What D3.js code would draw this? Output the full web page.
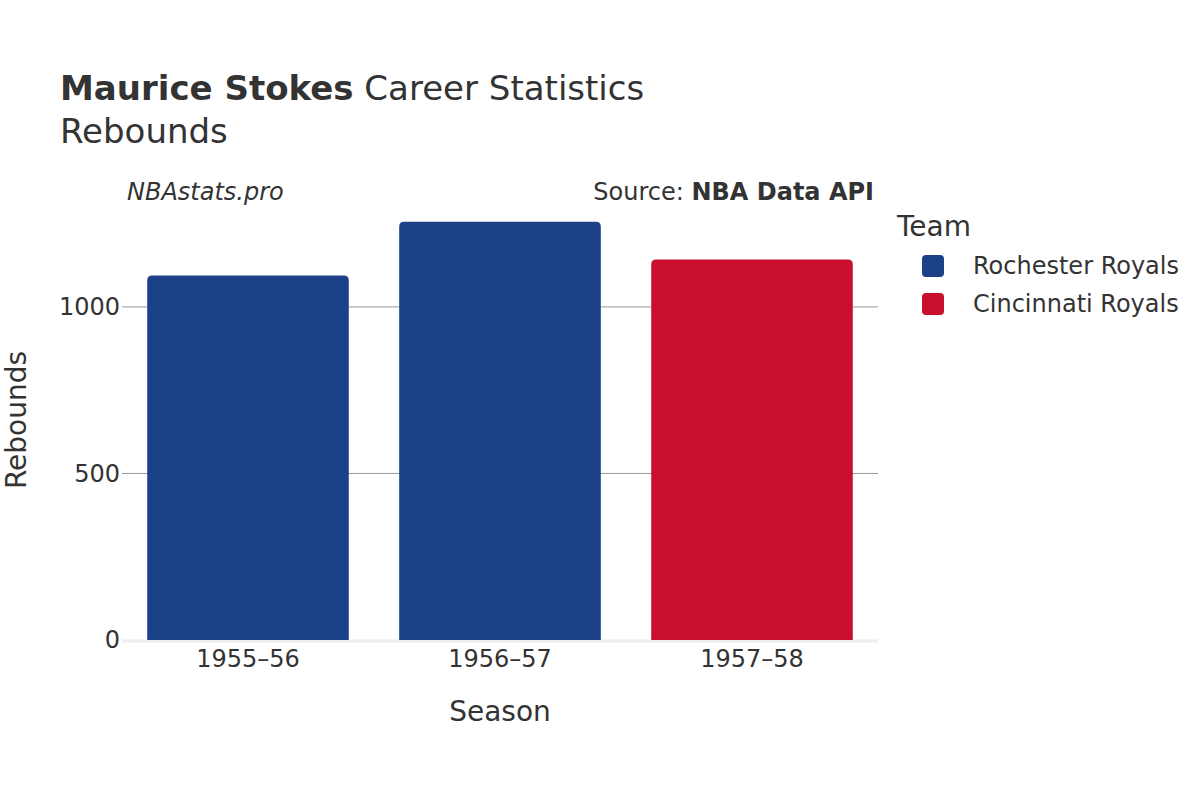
<!DOCTYPE html>
<html><head><meta charset="utf-8">
<script src="https://cdn.jsdelivr.net/npm/d3@7"></script>
<style>body{margin:0;background:#fff}text{font-family:"DejaVu Sans",sans-serif}</style>
</head><body>
<svg id="c" width="1200" height="800"></svg>
<script>
const seasons = ["1955–56","1956–57","1957–58"];
const rebounds = [1094,1256,1142];
const teams = ["Rochester Royals","Rochester Royals","Cincinnati Royals"];
const legendTeams = ["Rochester Royals","Cincinnati Royals"];
const teamColors = ["#1c4187","#c8102e"];
const yTicks = [0,500,1000];

const svg = d3.select("#c");
const L=122,R=878,T=200,B=640;
const x = d3.scaleBand().domain(seasons).range([L,R]).paddingInner(0.2).paddingOuter(0.1);
const y = d3.scaleLinear().domain([0,1321]).range([B,T]);
const color = d3.scaleOrdinal().domain(legendTeams).range(teamColors);

svg.append("g").selectAll("line").data(yTicks.filter(d=>d>0)).join("line")
  .attr("x1",L).attr("x2",R).attr("y1",d=>y(d)).attr("y2",d=>y(d)).attr("stroke","#999").attr("stroke-width",1);
svg.append("line").attr("x1",L).attr("x2",R).attr("y1",B+1).attr("y2",B+1).attr("stroke","#ebebf0").attr("stroke-width",3);

svg.append("g").selectAll("path").data(seasons).join("path")
  .attr("fill",(d,i)=>color(teams[i]))
  .attr("d",(d,i)=>{const x0=x(d),w=x.bandwidth(),y0=y(rebounds[i]),r=5;
    return `M${x0},${B}V${y0+r}Q${x0},${y0} ${x0+r},${y0}H${x0+w-r}Q${x0+w},${y0} ${x0+w},${y0+r}V${B}Z`;});

svg.append("g").selectAll("text").data(yTicks).join("text")
  .attr("x",L-2).attr("y",d=>y(d)).attr("dy","0.35em").attr("text-anchor","end")
  .attr("font-size",24).attr("fill","#333").text(d=>d);
svg.append("g").selectAll("text").data(seasons).join("text")
  .attr("x",d=>x(d)+x.bandwidth()/2).attr("y",667).attr("text-anchor","middle")
  .attr("font-size",24).attr("fill","#333").text(d=>d);

svg.append("text").attr("x",500).attr("y",721).attr("text-anchor","middle").attr("font-size",28).attr("fill","#333").text("Season");
svg.append("text").attr("transform","translate(26,420) rotate(-90)").attr("text-anchor","middle").attr("font-size",28).attr("fill","#333").text("Rebounds");

const t=svg.append("text").attr("x",60).attr("y",100).attr("font-size",34).attr("fill","#333");
t.append("tspan").attr("font-weight","bold").text("Maurice Stokes");
t.append("tspan").text(" Career Statistics");
svg.append("text").attr("x",60).attr("y",143).attr("font-size",34).attr("fill","#333").text("Rebounds");
svg.append("text").attr("x",127).attr("y",200).attr("font-size",24).attr("font-style","italic").attr("fill","#333").text("NBAstats.pro");
const s=svg.append("text").attr("x",874).attr("y",200).attr("text-anchor","end").attr("font-size",24).attr("fill","#333");
s.append("tspan").text("Source: ");
s.append("tspan").attr("font-weight","bold").text("NBA Data API");

svg.append("text").attr("x",897).attr("y",236).attr("font-size",28).attr("fill","#333").text("Team");
const lg=svg.append("g").selectAll("g").data(legendTeams).join("g").attr("transform",(d,i)=>`translate(922,${266+i*38})`);
lg.append("rect").attr("x",0).attr("y",-11).attr("width",22).attr("height",22).attr("rx",4).attr("fill",d=>color(d));
lg.append("text").attr("x",51).attr("dy","0.35em").attr("font-size",24).attr("fill","#333").text(d=>d);
</script></body></html>
